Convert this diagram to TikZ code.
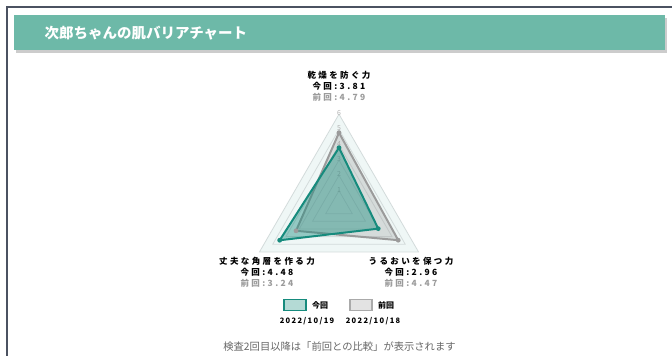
\documentclass[tikz,border=0pt]{standalone}
\usepackage{fontspec}
\setmainfont{Noto Sans CJK JP}
\usetikzlibrary{
	calc,
	shadows
}
\definecolor{headgreen}{HTML}{6DB9A8}
\definecolor{nowteal}{HTML}{168B7D}
\definecolor{prevgray}{HTML}{9B9B9B}
\definecolor{gridline}{HTML}{D3DBDB}
\definecolor{gridfill}{HTML}{EFF7F6}
\definecolor{framegray}{HTML}{4B5261}
\definecolor{notegray}{HTML}{666666}

\begin{document}
\begin{tikzpicture}[
	x=1pt, y=-1pt,
	gridring/.style={draw=gridline, line width=0.8pt},
	tick/.style={text=gray!60, font=\fontsize{7}{7}\selectfont, inner sep=0.5pt},
	axislabel/.style={align=center, inner sep=0, font=\fontsize{8.5}{10.8}\selectfont\bfseries\addfontfeatures{LetterSpace=28}},
	prevset/.style={draw=prevgray, fill=prevgray, fill opacity=0.3, draw opacity=1, line width=2pt, line join=round},
	nowset/.style={draw=nowteal, fill=nowteal, fill opacity=0.42, draw opacity=1, line width=2pt, line join=round},
	legendbox/.style={minimum width=22pt, minimum height=11pt, line width=1.6pt, inner sep=0},
	legendtext/.style={anchor=west, inner sep=0, font=\fontsize{8}{8}\selectfont\bfseries},
	datetext/.style={inner sep=0, font=\fontsize{7.5}{8}\selectfont\bfseries\addfontfeatures{LetterSpace=18}}
]
	\useasboundingbox (0,0) rectangle (672,356);

	\draw[framegray, line width=1.6pt] (7,356) -- (7,7) -- (672,7);

	\node(header)[fill=headgreen, minimum width=651pt, minimum height=35pt, anchor=north west,
		drop shadow={shadow xshift=2pt, shadow yshift=-2.5pt, opacity=0.4}] at (14,15) {};
	\node(title)[anchor=west, text=white, font=\fontsize{14.5}{16}\selectfont\bfseries] at (41,33) {次郎ちゃんの肌バリアチャート};

	\begin{scope}[shift={(339,206)}]
		\fill[gridfill] (270:91.8) -- (30:91.8) -- (150:91.8) -- cycle;
		\draw[gridring] (270:15.3) -- (30:15.3) -- (150:15.3) -- cycle;
		\draw[gridring] (270:30.6) -- (30:30.6) -- (150:30.6) -- cycle;
		\draw[gridring] (270:45.9) -- (30:45.9) -- (150:45.9) -- cycle;
		\draw[gridring] (270:61.2) -- (30:61.2) -- (150:61.2) -- cycle;
		\draw[gridring] (270:76.5) -- (30:76.5) -- (150:76.5) -- cycle;
		\draw[gridring] (270:91.8) -- (30:91.8) -- (150:91.8) -- cycle;

		\node(tick1)[tick] at (270:16.3) {1};
		\node(tick2)[tick] at (270:31.6) {2};
		\node(tick3)[tick] at (270:46.9) {3};
		\node(tick4)[tick] at (270:62.2) {4};
		\node(tick5)[tick] at (270:77.5) {5};
		\node(tick6)[tick] at (270:92.8) {6};

		\coordinate (prevDry) at (270:73.3);
		\coordinate (prevMoist) at (30:68.4);
		\coordinate (prevHorn) at (150:49.6);
		\coordinate (nowDry) at (270:58.3);
		\coordinate (nowMoist) at (30:45.3);
		\coordinate (nowHorn) at (150:68.5);

		\filldraw[prevset] (prevDry) -- (prevMoist) -- (prevHorn) -- cycle;
		\filldraw[nowset] (nowDry) -- (nowMoist) -- (nowHorn) -- cycle;

		\fill[prevgray] (prevDry) circle (2.4) (prevMoist) circle (2.4) (prevHorn) circle (2.4);
		\fill[nowteal] (nowDry) circle (2.4) (nowMoist) circle (2.4) (nowHorn) circle (2.4);
	\end{scope}

	\node(lblDry)[axislabel] at (339,86) {乾燥を防ぐ力\\今回:3.81\\\textcolor{prevgray}{前回:4.79}};
	\node(lblHorn)[axislabel] at (267,272) {丈夫な角層を作る力\\今回:4.48\\\textcolor{prevgray}{前回:3.24}};
	\node(lblMoist)[axislabel] at (411,272) {うるおいを保つ力\\今回:2.96\\\textcolor{prevgray}{前回:4.47}};

	\node(boxNow)[legendbox, draw=nowteal, fill=nowteal!32] at (295,305) {};
	\node(txtNow)[legendtext] at ($(boxNow.east) + (5,0)$) {今回};
	\node(boxPrev)[legendbox, draw=prevgray!85, fill=gray!22] at (361,305) {};
	\node(txtPrev)[legendtext] at ($(boxPrev.east) + (5,0)$) {前回};

	\node(dateNow)[datetext] at (307,321) {2022/10/19};
	\node(datePrev)[datetext] at (373,321) {2022/10/18};

	\node(note)[text=notegray, font=\fontsize{10.3}{12}\selectfont] at (339.5,347) {検査2回目以降は「前回との比較」が表示されます};
\end{tikzpicture}
\end{document}
